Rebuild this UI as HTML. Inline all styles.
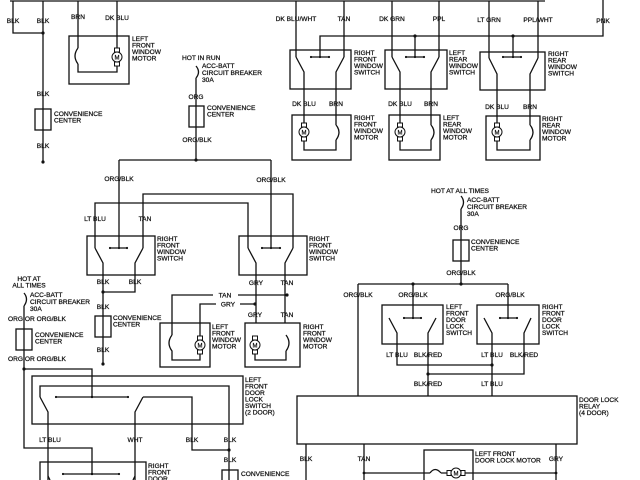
<!DOCTYPE html>
<html><head><meta charset="utf-8"><style>
html,body{margin:0;padding:0;background:#fff;}
svg{display:block}
text{font-family:"Liberation Sans",sans-serif;font-size:6.6px;fill:#111;stroke:#111;stroke-width:0.25;}
.c{text-anchor:middle}
</style></head><body>
<svg width="640" height="480" viewBox="0 0 640 480" xmlns="http://www.w3.org/2000/svg">
<g stroke="#111" stroke-width="1.3" fill="none">
<path d="M10 1H545M13 1V33H43M43 1V162M78 1V36M117 1V36"/>
<path d="M603 0V36H320V57M415 36V57M513 36V58"/>
<path d="M296 1V57M344 1V57M392 1V57M439 1V57M489 1V58M538 1V58"/>
<rect x="69" y="36" width="60" height="48"/>
<path d="M78 36V48M78 64V72H117V62M117 36V52"/>
<path d="M78 48Q72 56 78 64"/>
<rect x="35" y="109" width="16" height="21"/>
<rect x="290" y="50" width="61" height="39"/>
<rect x="385" y="50" width="62" height="39"/>
<rect x="480" y="52" width="65" height="38"/>
<path d="M311 57H329M406 57H424M503 57H521"/>
<path d="M296 57L304 72V115M344 57L336 72V115M392 57L400 72V115M439 57L431 72V115M489 58L497 74V116M538 58L530 74V116"/>
<rect x="292" y="115" width="59" height="45"/>
<rect x="389" y="115" width="51" height="45"/>
<rect x="486" y="116" width="54" height="44"/>
<path d="M304 115V123M304 141V150H336V140M336 115V125M336 125Q342 132 336 140"/>
<path d="M400 115V123M400 141V150H431V140M431 115V125M431 125Q437 132 431 140"/>
<path d="M497 116V123M497 141V150H530V140M530 116V125M530 125Q536 132 530 140"/>
<path d="M196 66Q201 72 196 78M196 78V160M119 160H271M119 160V248M271 160V248"/>
<rect x="189" y="106" width="15" height="21" fill="#fff"/>
<path d="M196 106V127"/>
<path d="M95 248V203H248V248M143 248V194H293V248"/>
<rect x="87" y="236" width="68" height="39"/>
<rect x="239" y="236" width="68" height="39"/>
<path d="M110 248H127M262 248H280"/>
<path d="M95 248L103 263V364M143 248L135 263V292H103"/>
<path d="M248 248L256 263V323M293 248L285 263V323"/>
<rect x="95" y="316" width="16" height="21" fill="#fff"/>
<path d="M103 316V337"/>
<path d="M172 335V295H213M238 295H287M200 345V304H216M240 304H255"/>
<rect x="160" y="323" width="50" height="44"/>
<rect x="245" y="323" width="55" height="44"/>
<path d="M172 335Q166 343 172 351V360H200V350"/>
<path d="M255 350V360H286V351M286 335Q292 343 286 351"/>
<path d="M24 293Q29 299 24 306M24 306V448H92V475M24 369H92V397"/>
<rect x="16" y="329" width="16" height="21" fill="#fff"/>
<path d="M24 329V350"/>
<rect x="32" y="376" width="211" height="48"/>
<path d="M40 397V386H229V475M56 397H128M143 397H192V450H229"/>
<path d="M40 397L48 412V480M143 397L135 412V480"/>
<rect x="222" y="470" width="16" height="14" fill="#fff"/>
<path d="M229 470V480"/>
<rect x="40" y="462" width="106" height="30"/>
<path d="M63 474H119M48 476L50 480M135 476L133 480"/>
<path d="M461 196Q466 202 461 209M461 209V284M358 284H508M358 284V396M413 284V318M508 284V318"/>
<rect x="453" y="240" width="16" height="21" fill="#fff"/>
<path d="M461 240V261"/>
<rect x="382" y="305" width="61" height="39"/>
<rect x="477" y="305" width="62" height="39"/>
<path d="M404 318H421M500 318H517"/>
<path d="M389 318L397 333V365H492M436 318L428 333V396M484 318L492 333V396M531 318L524 333V374H428"/>
<rect x="297" y="396" width="280" height="48"/>
<path d="M306 444V480M364 444V480M556 444V480M364 473H430M441 473H556"/>
<path d="M430 473Q435 466 441 473"/>
<rect x="424" y="450" width="49" height="35"/>
</g>
<g stroke="#111" stroke-width="1" fill="#fff">
<g transform="translate(117,57)"><rect x="-2.5" y="-9" width="5" height="4"/><rect x="-2.5" y="5" width="5" height="4"/><circle r="5"/></g>
<g transform="translate(304,132)"><rect x="-2.5" y="-9" width="5" height="4"/><rect x="-2.5" y="5" width="5" height="4"/><circle r="5"/></g>
<g transform="translate(400,132)"><rect x="-2.5" y="-9" width="5" height="4"/><rect x="-2.5" y="5" width="5" height="4"/><circle r="5"/></g>
<g transform="translate(497,132)"><rect x="-2.5" y="-9" width="5" height="4"/><rect x="-2.5" y="5" width="5" height="4"/><circle r="5"/></g>
<g transform="translate(200,345)"><rect x="-2.5" y="-9" width="5" height="4"/><rect x="-2.5" y="5" width="5" height="4"/><circle r="5"/></g>
<g transform="translate(255,345)"><rect x="-2.5" y="-9" width="5" height="4"/><rect x="-2.5" y="5" width="5" height="4"/><circle r="5"/></g>
<g transform="translate(456,473)"><rect x="-9" y="-2.5" width="4" height="5"/><rect x="5" y="-2.5" width="4" height="5"/><circle r="5"/></g>
</g>
<g>
<text x="117" y="59.5" class="c" style="font-size:6px">M</text>
<text x="304" y="134.5" class="c" style="font-size:6px">M</text>
<text x="400" y="134.5" class="c" style="font-size:6px">M</text>
<text x="497" y="134.5" class="c" style="font-size:6px">M</text>
<text x="200" y="347.5" class="c" style="font-size:6px">M</text>
<text x="255" y="347.5" class="c" style="font-size:6px">M</text>
<text x="456" y="475.5" class="c" style="font-size:6px">M</text>
</g>
<g fill="#111">
<circle cx="43" cy="33" r="1.6"/><circle cx="43" cy="162" r="1.6"/>
<circle cx="415" cy="36" r="1.6"/><circle cx="513" cy="36" r="1.6"/>
<circle cx="196" cy="160" r="1.6"/><circle cx="103" cy="292" r="1.6"/><circle cx="103" cy="364" r="1.6"/>
<circle cx="287" cy="295" r="1.6"/><circle cx="255" cy="304" r="1.6"/>
<circle cx="24" cy="369" r="1.6"/><circle cx="92" cy="397" r="1.2"/><circle cx="229" cy="450" r="1.6"/><circle cx="92" cy="474" r="1.2"/>
<circle cx="413" cy="284" r="1.6"/><circle cx="461" cy="284" r="1.6"/>
<circle cx="492" cy="365" r="1.6"/><circle cx="428" cy="374" r="1.6"/>
<circle cx="364" cy="473" r="1.4"/><circle cx="556" cy="473" r="1.4"/>
<circle cx="320" cy="57" r="1.1"/><circle cx="311" cy="57" r="1.1"/><circle cx="329" cy="57" r="1.1"/>
<circle cx="406" cy="57" r="1.1"/><circle cx="424" cy="57" r="1.1"/><circle cx="415" cy="57" r="1.1"/>
<circle cx="503" cy="57" r="1.1"/><circle cx="521" cy="57" r="1.1"/><circle cx="513" cy="57" r="1.1"/>
<circle cx="110" cy="248" r="1.1"/><circle cx="127" cy="248" r="1.1"/><circle cx="119" cy="248" r="1.1"/>
<circle cx="262" cy="248" r="1.1"/><circle cx="280" cy="248" r="1.1"/><circle cx="271" cy="248" r="1.1"/>
<circle cx="404" cy="318" r="1.1"/><circle cx="421" cy="318" r="1.1"/><circle cx="413" cy="318" r="1.1"/>
<circle cx="500" cy="318" r="1.1"/><circle cx="517" cy="318" r="1.1"/><circle cx="508" cy="318" r="1.1"/>
<circle cx="56" cy="397" r="1.1"/><circle cx="128" cy="397" r="1.1"/><circle cx="63" cy="474" r="1.1"/><circle cx="119" cy="474" r="1.1"/>
</g>
<g>
<text x="13" y="23" class="c">BLK</text><text x="43" y="23" class="c">BLK</text>
<text x="78" y="19" class="c">BRN</text><text x="117" y="20" class="c">DK BLU</text>
<text x="132" y="41">LEFT</text><text x="132" y="47.5">FRONT</text><text x="132" y="54">WINDOW</text><text x="132" y="60.5">MOTOR</text>
<text x="43" y="96" class="c">BLK</text><text x="43" y="148" class="c">BLK</text>
<text x="54" y="116">CONVENIENCE</text><text x="54" y="122.5">CENTER</text>
<text x="182" y="60">HOT IN RUN</text>
<text x="202" y="68">ACC-BATT</text><text x="202" y="75">CIRCUIT BREAKER</text><text x="202" y="82">30A</text>
<text x="196" y="99" class="c">ORG</text>
<text x="207" y="110">CONVENIENCE</text><text x="207" y="116.5">CENTER</text>
<text x="197" y="142" class="c">ORG/BLK</text>
<text x="119" y="181" class="c">ORG/BLK</text><text x="271" y="182" class="c">ORG/BLK</text>
<text x="296" y="21" class="c">DK BLU/WHT</text><text x="344" y="21" class="c">TAN</text><text x="392" y="21" class="c">DK GRN</text>
<text x="439" y="21" class="c">PPL</text><text x="489" y="22" class="c">LT GRN</text><text x="538" y="22" class="c">PPL/WHT</text><text x="603" y="23" class="c">PNK</text>
<text x="354" y="55">RIGHT</text><text x="354" y="61.5">FRONT</text><text x="354" y="68">WINDOW</text><text x="354" y="74.5">SWITCH</text>
<text x="449" y="55">LEFT</text><text x="449" y="61.5">REAR</text><text x="449" y="68">WINDOW</text><text x="449" y="74.5">SWITCH</text>
<text x="548" y="56">RIGHT</text><text x="548" y="62.5">REAR</text><text x="548" y="69">WINDOW</text><text x="548" y="75.5">SWITCH</text>
<text x="304" y="106" class="c">DK BLU</text><text x="336" y="106" class="c">BRN</text>
<text x="400" y="106" class="c">DK BLU</text><text x="431" y="106" class="c">BRN</text>
<text x="497" y="109" class="c">DK BLU</text><text x="530" y="109" class="c">BRN</text>
<text x="354" y="120">RIGHT</text><text x="354" y="126.5">FRONT</text><text x="354" y="133">WINDOW</text><text x="354" y="139.5">MOTOR</text>
<text x="443" y="120">LEFT</text><text x="443" y="126.5">REAR</text><text x="443" y="133">WINDOW</text><text x="443" y="139.5">MOTOR</text>
<text x="542" y="121">RIGHT</text><text x="542" y="127.5">REAR</text><text x="542" y="134">WINDOW</text><text x="542" y="140.5">MOTOR</text>
<text x="95" y="221" class="c">LT BLU</text><text x="145" y="221" class="c">TAN</text>
<text x="157" y="241">RIGHT</text><text x="157" y="247.5">FRONT</text><text x="157" y="254">WINDOW</text><text x="157" y="260.5">SWITCH</text>
<text x="309" y="241">RIGHT</text><text x="309" y="247.5">FRONT</text><text x="309" y="254">WINDOW</text><text x="309" y="260.5">SWITCH</text>
<text x="103" y="284" class="c">BLK</text><text x="135" y="284" class="c">BLK</text>
<text x="256" y="285" class="c">GRY</text><text x="287" y="285" class="c">TAN</text>
<text x="225" y="297.5" class="c">TAN</text><text x="228" y="306.5" class="c">GRY</text>
<text x="255" y="317" class="c">GRY</text><text x="287" y="317" class="c">TAN</text>
<text x="103" y="309" class="c">BLK</text><text x="103" y="352" class="c">BLK</text>
<text x="113" y="320">CONVENIENCE</text><text x="113" y="326.5">CENTER</text>
<text x="212" y="329">LEFT</text><text x="212" y="335.5">FRONT</text><text x="212" y="342">WINDOW</text><text x="212" y="348.5">MOTOR</text>
<text x="303" y="329">RIGHT</text><text x="303" y="335.5">FRONT</text><text x="303" y="342">WINDOW</text><text x="303" y="348.5">MOTOR</text>
<text x="29" y="281" class="c">HOT AT</text><text x="29" y="287.5" class="c">ALL TIMES</text>
<text x="30" y="297">ACC-BATT</text><text x="30" y="304">CIRCUIT BREAKER</text><text x="30" y="311">30A</text>
<text x="8" y="321">ORG OR ORG/BLK</text><text x="8" y="361">ORG OR ORG/BLK</text>
<text x="35" y="337">CONVENIENCE</text><text x="35" y="343.5">CENTER</text>
<text x="245" y="382">LEFT</text><text x="245" y="388.5">FRONT</text><text x="245" y="395">DOOR</text><text x="245" y="401.5">LOCK</text><text x="245" y="408">SWITCH</text><text x="245" y="414.5">(2 DOOR)</text>
<text x="50" y="442" class="c">LT BLU</text><text x="135" y="442" class="c">WHT</text><text x="192" y="442" class="c">BLK</text><text x="230" y="442" class="c">BLK</text>
<text x="230" y="462" class="c">BLK</text>
<text x="241" y="476">CONVENIENCE</text>
<text x="148" y="468">RIGHT</text><text x="148" y="474.5">FRONT</text><text x="148" y="481">DOOR</text>
<text x="431" y="193">HOT AT ALL TIMES</text>
<text x="467" y="202">ACC-BATT</text><text x="467" y="209">CIRCUIT BREAKER</text><text x="467" y="216">30A</text>
<text x="461" y="230" class="c">ORG</text>
<text x="471" y="244">CONVENIENCE</text><text x="471" y="250.5">CENTER</text>
<text x="461" y="275" class="c">ORG/BLK</text>
<text x="358" y="297" class="c">ORG/BLK</text><text x="413" y="297" class="c">ORG/BLK</text><text x="510" y="297" class="c">ORG/BLK</text>
<text x="446" y="309">LEFT</text><text x="446" y="315.5">FRONT</text><text x="446" y="322">DOOR</text><text x="446" y="328.5">LOCK</text><text x="446" y="335">SWITCH</text>
<text x="542" y="309">RIGHT</text><text x="542" y="315.5">FRONT</text><text x="542" y="322">DOOR</text><text x="542" y="328.5">LOCK</text><text x="542" y="335">SWITCH</text>
<text x="397" y="357" class="c">LT BLU</text><text x="428" y="357" class="c">BLK/RED</text><text x="492" y="357" class="c">LT BLU</text><text x="524" y="357" class="c">BLK/RED</text>
<text x="428" y="386" class="c">BLK/RED</text><text x="492" y="386" class="c">LT BLU</text>
<text x="579" y="402">DOOR LOCK</text><text x="579" y="408.5">RELAY</text><text x="579" y="415">(4 DOOR)</text>
<text x="306" y="461" class="c">BLK</text><text x="364" y="461" class="c">TAN</text><text x="556" y="461" class="c">GRY</text>
<text x="475" y="456">LEFT FRONT</text><text x="475" y="462.5">DOOR LOCK MOTOR</text>
</g>
</svg>
</body></html>
